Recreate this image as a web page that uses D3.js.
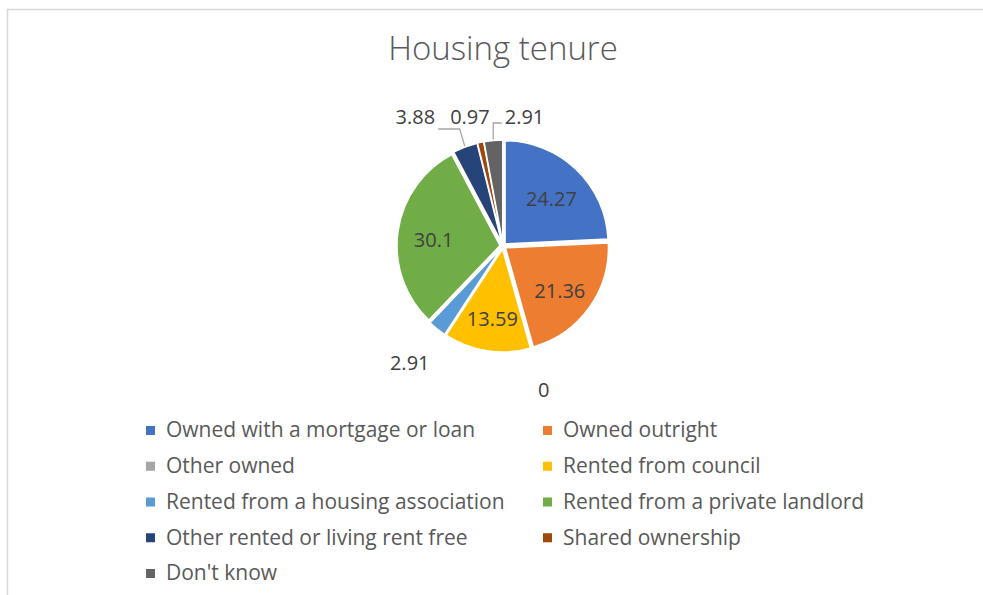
<!DOCTYPE html>
<html>
<head>
<meta charset="utf-8">
<title>Housing tenure</title>
<script src="https://cdn.jsdelivr.net/npm/d3@7"></script>
<style>
  body { margin: 0; background: #fff; }
  svg { display: block; }
  text { font-family: "Open Sans", Lato, sans-serif; }
</style>
</head>
<body>
<svg width="983" height="595"></svg>
<script>
// data
var categories = ['Owned with a mortgage or loan', 'Owned outright', 'Other owned',
  'Rented from council', 'Rented from a housing association', 'Rented from a private landlord',
  'Other rented or living rent free', 'Shared ownership', "Don't know"];
var values = [24.27, 21.36, 0, 13.59, 2.91, 30.1, 3.88, 0.97, 2.91];
var colors = ['#4472c4', '#ed7d31', '#a5a5a5', '#ffc000', '#5b9bd5', '#70ad47', '#264478', '#9e480e', '#636363'];
var title = 'Housing tenure';

var svg = d3.select('svg'),
  cx = 503, cy = 246,
  r = 103,
  explode = 3;

// chart area border
svg.append('rect')
  .attr('x', 7.5).attr('y', 9.5)
  .attr('width', 1000).attr('height', 1000)
  .attr('fill', 'none')
  .attr('stroke', '#d9d9d9')
  .attr('stroke-width', 1.5);

svg.append('text')
  .attr('x', 503).attr('y', 60)
  .attr('text-anchor', 'middle')
  .attr('font-size', 33)
  .attr('font-weight', 300)
  .attr('fill', '#595959')
  .text(title);

var rows = categories.map(function(c, i) { return {name: c, value: values[i], color: colors[i]}; });

var pie = d3.pie().sort(null).value(function(d) { return d.value; });
var arcs = pie(rows);
var arc = d3.arc().innerRadius(0).outerRadius(r);

function mid(a) { return (a.startAngle + a.endAngle) / 2; }
function polar(a, rad) { return [cx + rad * Math.sin(a), cy - rad * Math.cos(a)]; }

var g = svg.append('g');
g.selectAll('path')
  .data(arcs.filter(function(a) { return a.data.value > 0; }))
  .enter().append('path')
  .attr('d', arc)
  .attr('transform', function(a) {
    var p = polar(mid(a), explode);
    return 'translate(' + p[0] + ',' + p[1] + ')';
  })
  .attr('fill', function(a) { return a.data.color; })
  .attr('stroke', '#fff')
  .attr('stroke-width', 1.5);

// labels: big slices inside, small ones outside
var inside = arcs.filter(function(a) { return a.data.value >= 10; });
var outside = arcs.filter(function(a) { return a.data.value < 10; });

g.selectAll('text.in')
  .data(inside)
  .enter().append('text')
  .attr('class', 'in')
  .attr('x', function(a) { return polar(mid(a), r * 0.68)[0]; })
  .attr('y', function(a) { return polar(mid(a), r * 0.68)[1] + 4; })
  .attr('dy', '0.35em')
  .attr('text-anchor', 'middle')
  .attr('font-size', 20)
  .attr('fill', '#404040')
  .text(function(a) { return a.data.value; });

var outR = r + 47;
var labs = outside.map(function(a) {
  var p = polar(mid(a), outR);
  return {arc: a, nx: p[0], ny: p[1], x: p[0], y: p[1]};
});

var lt = g.selectAll('text.out')
  .data(labs)
  .enter().append('text')
  .attr('class', 'out')
  .attr('text-anchor', 'middle')
  .attr('dy', '0.35em')
  .attr('font-size', 20)
  .attr('fill', '#404040')
  .text(function(d) { return d.arc.data.value; });
lt.each(function(d) { d.w = this.getComputedTextLength(); });

// labels above the pie go on one row, spread so they don't overlap
var topLabs = labs.filter(function(d) { return d.ny < cy - r; })
  .sort(function(a, b) { return a.nx - b.nx; });
if (topLabs.length) {
  var gap = 15,
    total = d3.sum(topLabs, function(d) { return d.w; }) + gap * (topLabs.length - 1),
    x0 = d3.mean(topLabs, function(d) { return d.nx; }) - total / 2;
  topLabs.forEach(function(d) {
    d.x = x0 + d.w / 2;
    d.y = cy - r - 26;
    x0 += d.w + gap;
  });
}
lt.attr('x', function(d) { return d.x; }).attr('y', function(d) { return d.y; });

// leader lines for labels pushed away from their slice
g.selectAll('polyline')
  .data(topLabs.filter(function(d) { return Math.abs(d.x - d.nx) > 15; }))
  .enter().append('polyline')
  .attr('fill', 'none')
  .attr('stroke', '#a6a6a6')
  .attr('stroke-width', 1.3)
  .attr('points', function(d) {
    var a = polar(mid(d.arc), r + explode + 1);
    if (d.x < a[0]) {
      var yl = d.y + 12;
      return [a, [a[0] - 5, yl], [d.x + d.w / 2 + 3, yl]].join(' ');
    }
    var yr = d.y + 6;
    return [a, [a[0], yr], [d.x - d.w / 2 - 3, yr]].join(' ');
  });

// legend, two columns
var legX = d3.scaleOrdinal().domain([0, 1]).range([150, 547]);
var legY = d3.scaleLinear().domain([0, 4]).range([430, 573]);
var leg = svg.selectAll('g.leg')
  .data(rows)
  .enter().append('g')
  .attr('class', 'leg')
  .attr('transform', function(d, i) {
    return 'translate(' + legX(i % 2) + ',' + legY(Math.floor(i / 2)) + ')';
  });
leg.append('rect')
  .attr('x', -4).attr('y', -4)
  .attr('width', 9).attr('height', 9)
  .attr('fill', function(d) { return d.color; });
leg.append('text')
  .attr('x', 16)
  .attr('dy', '0.35em')
  .attr('font-size', 21)
  .attr('fill', '#595959')
  .text(function(d) { return d.name; });
</script>
</body>
</html>
